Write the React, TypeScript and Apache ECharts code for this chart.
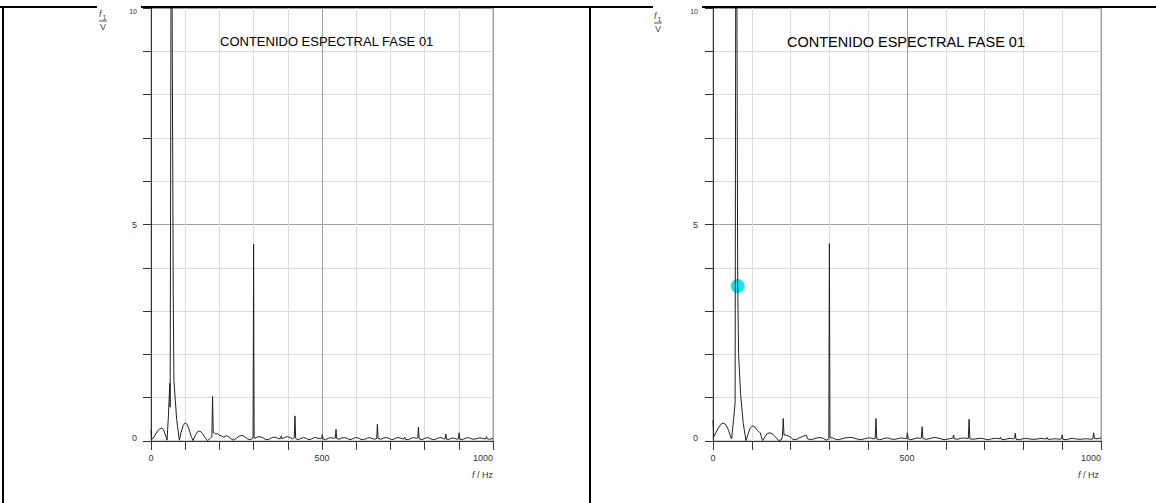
import React, { useEffect, useRef } from "react";
import * as echarts from "echarts";

const titleText = "CONTENIDO ESPECTRAL FASE 01";
const xTickValues = [0, 500, 1000];
const xTickLabels = ["0", "500", "1000"];
const yTickValues = [0, 5, 10];
const yTickLabels = ["0", "5", "10"];

// [frequency Hz, amplitude V] – left panel
const leftSpectrum: [number, number][] = [
  [0, 0.26], [1.5, 0.05], [6, 0.06], [12, 0.14], [19, 0.23], [26, 0.28], [31, 0.3], [36, 0.27], [41, 0.17], [47, 0.02],
  [51, 0.6], [55, 1.33], [56, 0.78], [58.5, 10.5], [60, 20], [61.5, 10.5], [65, 3.5], [67, 1.4], [75, 0.5], [83, 0.02],
  [88, 0.2], [94, 0.36], [100, 0.42], [106, 0.38], [112, 0.25], [118, 0.1], [123, 0.01], [130, 0.14], [137, 0.22],
  [143, 0.23], [150, 0.18], [158, 0.08], [165, 0.01], [172, 0.05], [178, 0.1], [180, 1.03], [182, 0.2], [186, 0.18],
  [190, 0.16], [195, 0.17], [200, 0.13], [206, 0.12], [212, 0.09], [221, 0.12], [230, 0.08], [236, 0.04], [242, 0.02],
  [250, 0.07], [258, 0.11], [266, 0.13], [274, 0.1], [282, 0.05], [290, 0.03], [297, 0.06], [298.5, 0.1], [300, 4.55],
  [301.5, 0.1], [303, 0.06], [310, 0.09], [318, 0.1], [326, 0.08], [334, 0.04], [342, 0.03], [350, 0.06], [358, 0.09],
  [366, 0.08], [374, 0.05], [379, 0.06], [381, 0.12], [383, 0.05], [390, 0.08], [398, 0.1], [406, 0.08], [414, 0.05],
  [419, 0.08], [421, 0.58], [423, 0.06], [430, 0.03], [438, 0.06], [446, 0.08], [454, 0.06], [462, 0.03], [470, 0.05],
  [478, 0.08], [486, 0.07], [494, 0.05], [499, 0.06], [501, 0.15], [503, 0.05], [510, 0.03], [518, 0.06], [526, 0.08],
  [534, 0.06], [539, 0.07], [541, 0.27], [543, 0.06], [550, 0.04], [558, 0.07], [566, 0.08], [574, 0.06], [582, 0.03],
  [590, 0.05], [598, 0.08], [606, 0.07], [614, 0.04], [622, 0.03], [630, 0.06], [638, 0.08], [646, 0.06], [654, 0.04],
  [660, 0.06], [662, 0.39], [664, 0.06], [672, 0.04], [680, 0.07], [688, 0.08], [696, 0.06], [704, 0.03], [712, 0.05],
  [720, 0.08], [728, 0.07], [736, 0.05], [740, 0.05], [742, 0.09], [744, 0.04], [752, 0.03], [760, 0.06], [768, 0.08],
  [776, 0.06], [780, 0.07], [782, 0.32], [784, 0.05], [792, 0.03], [800, 0.06], [808, 0.08], [816, 0.06], [824, 0.03],
  [832, 0.04], [840, 0.07], [848, 0.08], [856, 0.05], [860, 0.05], [862, 0.16], [864, 0.04], [872, 0.04], [880, 0.07],
  [888, 0.06], [896, 0.04], [899, 0.05], [901, 0.19], [903, 0.04], [910, 0.03], [918, 0.06], [926, 0.08], [934, 0.06],
  [942, 0.04], [950, 0.05], [958, 0.07], [966, 0.07], [974, 0.05], [979, 0.05], [981, 0.1], [983, 0.05], [990, 0.04],
  [1000, 0.06],
];

// [frequency Hz, amplitude V] – right panel
const rightSpectrum: [number, number][] = [
  [0, 0.48], [2, 0.1], [8, 0.2], [15, 0.32], [22, 0.4], [27, 0.41], [33, 0.38], [40, 0.25], [46, 0.08], [48, 0.05],
  [53, 0.5], [57, 0.88], [58.5, 10.5], [60, 20], [61.5, 10.5], [63.7, 3.58], [66, 2], [71, 1.1], [78, 0.4], [85, 0.01],
  [90, 0.15], [96, 0.3], [102, 0.35], [108, 0.32], [114, 0.25], [120, 0.2], [122, 0.19], [126, 0.05], [128, 0.01],
  [134, 0.1], [140, 0.17], [147, 0.19], [154, 0.16], [162, 0.08], [170, 0.01], [176, 0.03], [179, 0.1], [181, 0.52],
  [183, 0.14], [190, 0.13], [198, 0.1], [206, 0.04], [214, 0.03], [222, 0.07], [230, 0.1], [238, 0.13], [240, 0.14],
  [244, 0.05], [252, 0.03], [260, 0.05], [268, 0.07], [276, 0.08], [284, 0.06], [292, 0.02], [298.5, 0.05], [300, 4.56],
  [301.5, 0.08], [308, 0.07], [316, 0.04], [324, 0.03], [332, 0.05], [340, 0.07], [350, 0.08], [358, 0.08], [366, 0.06],
  [374, 0.04], [382, 0.03], [390, 0.05], [398, 0.07], [406, 0.07], [414, 0.05], [418, 0.06], [420, 0.52], [422, 0.05],
  [430, 0.03], [438, 0.05], [446, 0.07], [454, 0.06], [462, 0.04], [470, 0.04], [478, 0.06], [486, 0.07], [494, 0.06],
  [499, 0.06], [501, 0.19], [503, 0.05], [510, 0.03], [518, 0.05], [526, 0.07], [534, 0.06], [537, 0.07], [539, 0.33],
  [541, 0.06], [548, 0.04], [556, 0.05], [564, 0.07], [572, 0.08], [580, 0.07], [588, 0.05], [596, 0.03], [604, 0.04],
  [612, 0.06], [618, 0.06], [620, 0.14], [622, 0.05], [630, 0.04], [638, 0.06], [646, 0.07], [654, 0.06], [658, 0.06],
  [660, 0.5], [662, 0.05], [670, 0.04], [678, 0.05], [686, 0.06], [694, 0.06], [702, 0.04], [710, 0.03], [718, 0.05],
  [726, 0.06], [734, 0.06], [739, 0.05], [741, 0.09], [743, 0.04], [750, 0.03], [758, 0.05], [766, 0.06], [774, 0.05],
  [777, 0.06], [779, 0.18], [781, 0.04], [790, 0.03], [798, 0.05], [806, 0.06], [814, 0.05], [822, 0.04], [830, 0.04],
  [838, 0.05], [846, 0.06], [854, 0.05], [859, 0.05], [861, 0.08], [863, 0.04], [870, 0.04], [878, 0.05], [886, 0.05],
  [894, 0.04], [898, 0.05], [900, 0.14], [902, 0.04], [910, 0.03], [918, 0.05], [926, 0.06], [934, 0.05], [942, 0.04],
  [950, 0.04], [958, 0.05], [966, 0.05], [974, 0.04], [979, 0.05], [981, 0.19], [983, 0.06], [990, 0.05], [1000, 0.07],
];

const cursorPoint: [number, number][] = [[63.7, 3.58]];

const FONT = "Liberation Sans, Arial, sans-serif";
const LIGHT = "#dcdcdc";
const DARK = "#a0a0a0";

function splitColors(): string[] {
  const c: string[] = [];
  for (let i = 0; i <= 10; i++) c.push(i === 5 ? DARK : i === 10 ? DARK : LIGHT);
  return c;
}

function makeX(gridIndex: number) {
  return {
    type: "value",
    gridIndex,
    min: 0,
    max: 1000,
    interval: 100,
    axisLine: { lineStyle: { color: "#333", width: 1 } },
    axisTick: { show: true, length: 9, lineStyle: { color: "#333" } },
    splitLine: { show: true, lineStyle: { color: splitColors(), width: 1 } },
    axisLabel: {
      margin: 12,
      fontSize: 9,
      fontFamily: FONT,
      color: "#333",
      alignMaxLabel: "right",
      formatter: (v: number) => {
        const i = xTickValues.indexOf(v);
        return i >= 0 ? xTickLabels[i] : "";
      },
    },
  };
}

function makeY(gridIndex: number, margin: number) {
  return {
    type: "value",
    gridIndex,
    min: 0,
    max: 10,
    interval: 1,
    axisLine: { show: true, lineStyle: { color: "#333", width: 1 } },
    axisTick: { show: true, length: 8, lineStyle: { color: "#333" } },
    splitLine: { show: true, lineStyle: { color: splitColors(), width: 1 } },
    axisLabel: {
      margin,
      fontFamily: FONT,
      color: "#333",
      formatter: (v: number) => {
        const i = yTickValues.indexOf(v);
        if (i < 0) return "";
        if (v === 10) return `{t|${yTickLabels[i]}}`;
        if (v === 0) return `{z|${yTickLabels[i]}}`;
        return `{n|${yTickLabels[i]}}`;
      },
      rich: {
        t: { fontSize: 7, fontFamily: FONT, color: "#333", padding: [7, 0, 0, 0] },
        z: { fontSize: 9, fontFamily: FONT, color: "#333", padding: [0, 0, 7, 0] },
        n: { fontSize: 9, fontFamily: FONT, color: "#333" },
      },
    },
  };
}

function unitLabel(x: number, y: number) {
  return [
    { type: "text", z: 102, x, y, style: { text: "f", font: `italic 9px ${FONT}`, fill: "#444", verticalAlign: "middle" } },
    { type: "text", z: 102, x: x + 3.5, y: y + 3, style: { text: "1", font: `7px ${FONT}`, fill: "#444", verticalAlign: "middle" } },
    { type: "line", z: 102, shape: { x1: x, y1: y + 7, x2: x + 8, y2: y + 7 }, style: { stroke: "#555", lineWidth: 1 } },
    { type: "text", z: 102, x: x + 1, y: y + 13, style: { text: "V", font: `9px ${FONT}`, fill: "#444", verticalAlign: "middle" } },
  ];
}

function axisName(xRight: number, y: number) {
  return {
    type: "text",
    z: 102,
    x: xRight,
    y,
    style: {
      text: "{i|f} / Hz",
      align: "right",
      verticalAlign: "middle",
      rich: {
        i: { font: `italic 9px ${FONT}`, fill: "#333" },
      },
      font: `9px ${FONT}`,
      fill: "#333",
    },
  };
}

export default function App() {
  const ref = useRef<HTMLDivElement>(null);
  useEffect(() => {
    if (!ref.current) return;
    const chart = echarts.init(ref.current, undefined, { renderer: "svg" });
    chart.setOption({
      animation: false,
      backgroundColor: "#fff",
      grid: [
        { left: 151, top: 8, width: 342, height: 433, show: true, borderColor: DARK, borderWidth: 1, backgroundColor: "transparent" },
        { left: 713, top: 8, width: 388, height: 433, show: true, borderColor: DARK, borderWidth: 1, backgroundColor: "transparent" },
      ],
      xAxis: [makeX(0), makeX(1)],
      yAxis: [makeY(0, 14), makeY(1, 15)],
      series: [
        {
          type: "line",
          xAxisIndex: 0,
          yAxisIndex: 0,
          data: leftSpectrum,
          showSymbol: false,
          lineStyle: { color: "#222", width: 1 },
          clip: true,
        },
        {
          type: "scatter",
          xAxisIndex: 1,
          yAxisIndex: 1,
          data: cursorPoint,
          symbolSize: 14,
          itemStyle: { color: "#1ee3ef", opacity: 1 },
          z: 1,
        },
        {
          type: "line",
          xAxisIndex: 1,
          yAxisIndex: 1,
          data: rightSpectrum,
          showSymbol: false,
          lineStyle: { color: "#222", width: 1 },
          clip: true,
        },
      ],
      graphic: [
        { type: "rect", z: 100, shape: { x: 0, y: 6, width: 1156, height: 2 }, style: { fill: "#000" } },
        { type: "rect", z: 100, shape: { x: 2, y: 6, width: 2, height: 497 }, style: { fill: "#000" } },
        { type: "rect", z: 100, shape: { x: 589, y: 6, width: 2, height: 497 }, style: { fill: "#000" } },
        { type: "rect", z: 101, shape: { x: 97, y: 4, width: 44, height: 4.5 }, style: { fill: "#fff" } },
        { type: "rect", z: 101, shape: { x: 653, y: 4, width: 49, height: 4.5 }, style: { fill: "#fff" } },
        ...unitLabel(99, 14),
        ...unitLabel(654, 16),
        { type: "text", z: 102, x: 220, y: 41, style: { text: titleText, font: `13px ${FONT}`, fill: "#000", verticalAlign: "middle" } },
        { type: "text", z: 102, x: 787, y: 42, style: { text: titleText, font: `14.5px ${FONT}`, fill: "#000", verticalAlign: "middle" } },
        axisName(493, 475),
        axisName(1099, 475),
      ],
    });
    return () => chart.dispose();
  }, []);
  return (
    <div
      ref={ref}
      style={{ position: "absolute", left: 0, top: 0, width: 1156, height: 503, background: "#fff" }}
    />
  );
}
